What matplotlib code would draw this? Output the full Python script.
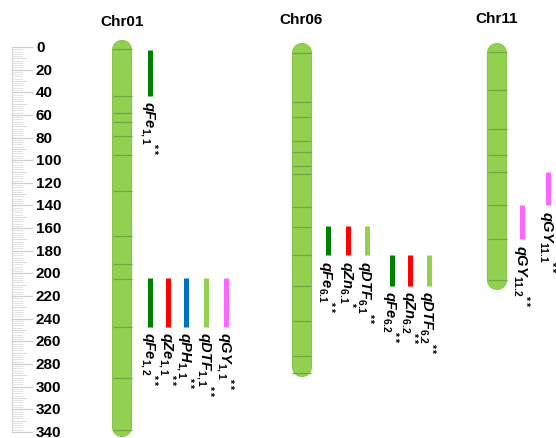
import matplotlib
matplotlib.use("Agg")
import matplotlib.pyplot as plt
import numpy as np

plt.rcParams['font.family'] = ['Liberation Sans', 'DejaVu Sans']
plt.rcParams['mathtext.fontset'] = 'custom'
plt.rcParams['mathtext.it'] = 'Liberation Sans:italic:bold'
plt.rcParams['mathtext.rm'] = 'Liberation Sans:bold'
plt.rcParams['mathtext.bf'] = 'Liberation Sans:bold'

# chromosomes: name, start, end, marker positions
chr_names = ["Chr01", "Chr06", "Chr11"]
chr_start = [3, 5, 5]
chr_end = [336, 283, 206]
chr01_markers = [2, 43, 58, 66, 79, 95, 127, 167, 192, 205, 247, 292, 338]
chr06_markers = [5, 49, 62, 83, 93, 105, 112, 141, 159, 184, 211, 242, 273, 288]
chr11_markers = [4, 38, 72, 95, 110, 140, 170, 206]
chr_markers = [chr01_markers, chr06_markers, chr11_markers]

# QTLs: name, subscript, significance, start, end, colour
qtl_name = ["qFe", "qFe", "qZe", "qPH", "qDTF", "qGY",
            "qFe", "qZn", "qDTF", "qFe", "qZn", "qDTF",
            "qGY", "qGY"]
qtl_sub = ["1,1", "1,2", "1,1", "1,1", "1,1", "1,1",
           "6.1", "6.1", "6.1", "6.2", "6.2", "6.2",
           "11.1", "11.2"]
qtl_sig = ["**", "**", "**", "**", "**", "**",
           "**", "*", "**", "**", "**", "**",
           "**", "**"]
qtl_start = [3, 204, 204, 204, 204, 204, 158, 158, 158, 184, 184, 184, 110, 140]
qtl_end = [43, 247, 247, 247, 247, 247, 184, 184, 184, 211, 211, 211, 140, 170]
qtl_color = ["#008000", "#008000", "#FF0000", "#0070C0", "#92D050", "#FF66FF",
             "#008000", "#FF0000", "#92D050", "#008000", "#FF0000", "#92D050",
             "#FF66FF", "#FF66FF"]

ruler_ticks = np.arange(0, 341, 20)

# layout (pixels across, figure is 556 px wide)
chr_x = [122, 301.5, 497]
qtl_x = [150, 150, 168, 186, 206, 226, 327.5, 348, 366.5, 391.5, 410, 428.5, 548, 522]
px = 1.132  # pixels per unit on the vertical axis
top_px = 48

fig = plt.figure(figsize=(5.56, 4.39), dpi=100)
ax = fig.add_axes([0, 0, 1, 1])
ax.set_xlim(0, 556)
ax.set_ylim((439 - top_px) / px, -top_px / px)
ax.axis("off")

# ruler
ax.plot([12, 12], [0, 340], color="#d8d8d8", lw=1)
for v in np.arange(0, 341, 2):
    ax.plot([12, 22], [v, v], color="#e2e2e2", lw=0.7)
for v in np.arange(0, 341, 10):
    ax.plot([12, 26], [v, v], color="#dadada", lw=0.7)
for v in ruler_ticks:
    ax.plot([12, 32], [v, v], color="#cfcfcf", lw=0.9)
    ax.text(36, v, str(v), ha="left", va="center", fontsize=11, fontweight="bold")

# chromosomes
for i, name in enumerate(chr_names):
    x = chr_x[i]
    ax.plot([x, x], [chr_start[i], chr_end[i]], color="#84c247", lw=14.5,
            solid_capstyle="round", zorder=2)
    ax.plot([x, x], [chr_start[i], chr_end[i]], color="#92D050", lw=13.3,
            solid_capstyle="round", zorder=3)
    ax.hlines(chr_markers[i], x - 9.5, x + 9.5, color="#72a443", lw=0.9, zorder=4)
    ax.text(x, -23 - i * 1.5, name, ha="center", va="center", fontsize=11,
            fontweight="bold")

# QTLs
for j in range(len(qtl_name)):
    x = qtl_x[j]
    ax.plot([x, x], [qtl_start[j], qtl_end[j]], color=qtl_color[j], lw=3.6,
            solid_capstyle="butt", zorder=3)
    label = r"$%s_{\mathit{%s}}{}^{\mathrm{%s}}$" % (qtl_name[j], qtl_sub[j], qtl_sig[j])
    ax.text(x - 1.5, qtl_end[j] + 4, label, rotation=-90, rotation_mode="anchor",
            ha="left", va="center", fontsize=10.5)

fig.savefig("out.png", dpi=100)
